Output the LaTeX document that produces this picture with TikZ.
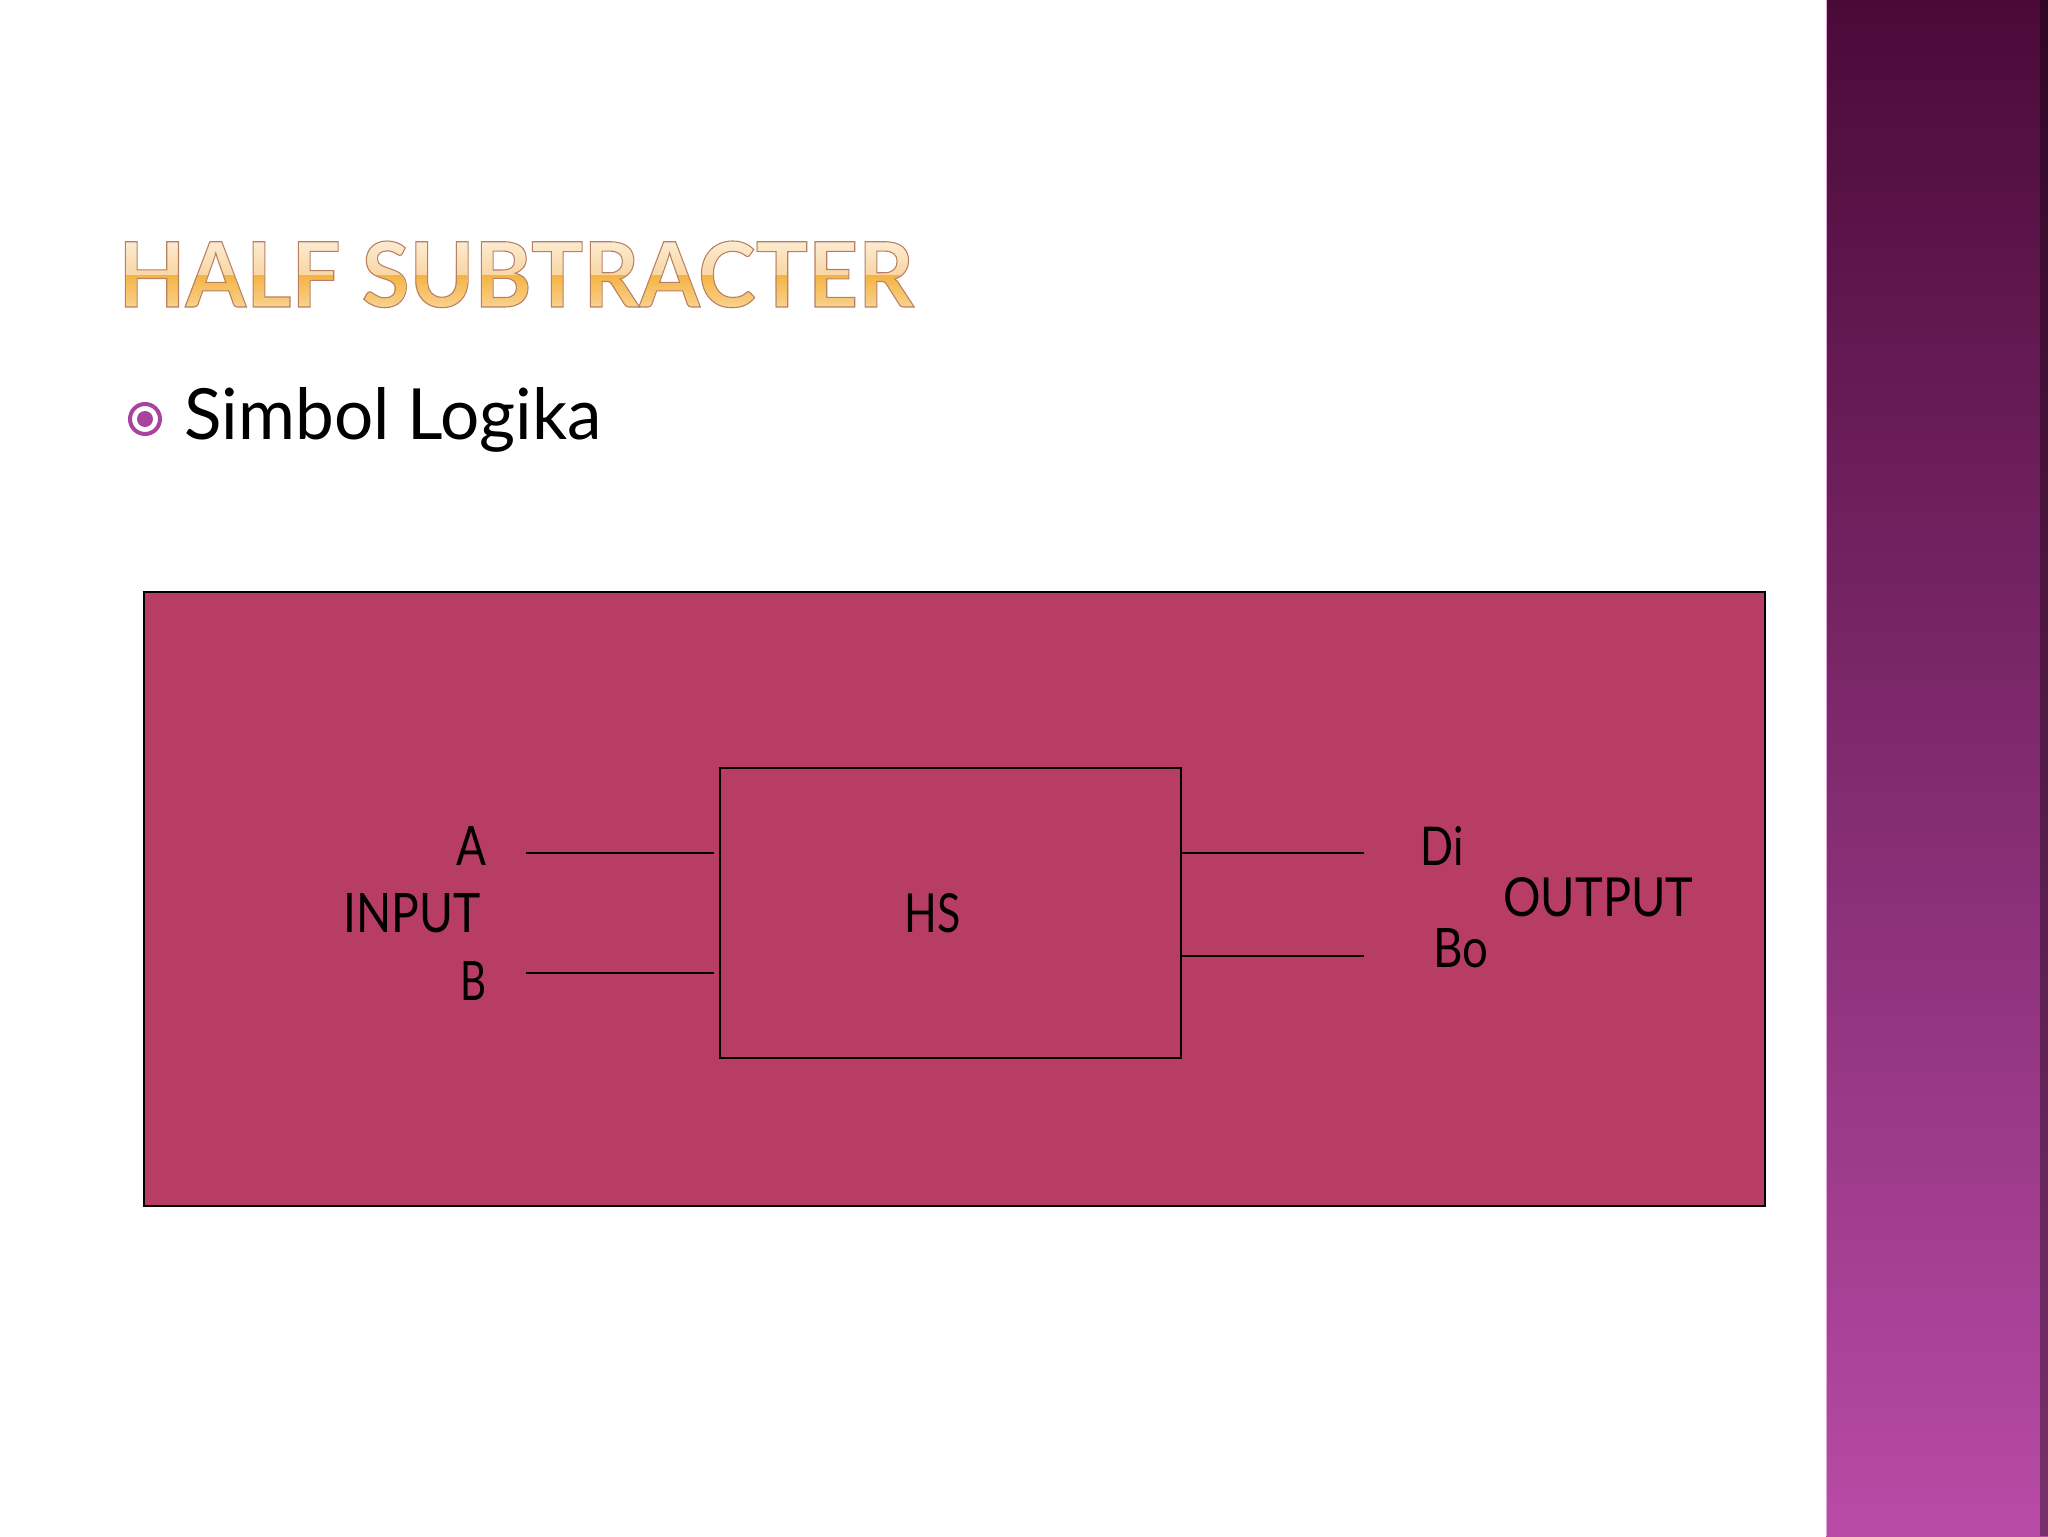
\documentclass[tikz,border=0pt]{standalone}
\usepackage{fontspec}
\usepackage{graphicx}
\setmainfont{Lato}
\definecolor{boxpink}{HTML}{B83D64}
\definecolor{bulletpurple}{HTML}{A8449E}
\definecolor{barTop}{HTML}{4A0A38}
\definecolor{barMid}{HTML}{83306F}
\definecolor{barBot}{HTML}{B84BA6}
\definecolor{barEdge}{HTML}{E6A6DA}
\definecolor{tA}{HTML}{FDEFD9}
\definecolor{tB}{HTML}{F9D7A6}
\definecolor{tC}{HTML}{F4B443}
\definecolor{tD}{HTML}{F9D699}
\newcommand{\titletext}{\resizebox{397.5pt}{33pt}{\bfseries HALF SUBTRACTER}}
\begin{document}
\begin{tikzpicture}[x=0.5pt,y=-0.5pt,
  lbl/.style={inner sep=0pt, anchor=base west, text=black},
  wire/.style={draw=black, line width=1pt}]
\useasboundingbox (0,0) rectangle (2048,1536);
\fill[white] (0,0) rectangle (2048,1536);
% right decorative bar
\shade[top color=barTop, middle color=barMid, bottom color=barBot] (1826,0) rectangle (2048,1536);
\fill[black, opacity=0.35] (2040,0) rectangle (2048,1536);
\draw[barEdge, line width=0.8pt] (1826.5,0) -- (1826.5,1536);
% title: banded gradient fill
\foreach \i in {0,...,16} {
  \pgfmathsetmacro{\ya}{236+\i*2.3}
  \pgfmathsetmacro{\yb}{\ya+2.5}
  \pgfmathtruncatemacro{\p}{100-100*\i/16}
  \begin{scope}
    \clip (100,\ya) rectangle (940,\yb);
    \node[lbl, text={tA!\p!tB}] (titleup\i) at (118,307) {\titletext};
  \end{scope}
}
\foreach \i in {0,...,16} {
  \pgfmathsetmacro{\ya}{275+\i*2.3}
  \pgfmathsetmacro{\yb}{\ya+2.5}
  \pgfmathtruncatemacro{\p}{100-100*\i/16}
  \begin{scope}
    \clip (100,\ya) rectangle (940,\yb);
    \node[lbl, text={tC!\p!tD}] (titlelo\i) at (118,307) {\titletext};
  \end{scope}
}
% title outline
\node[lbl] (title) at (118,307)
  {\special{pdf:literal direct 1 Tr 0.12 w 0.72 0.50 0.38 RG}\titletext\special{pdf:literal direct 0 Tr}};
% bullet
\node[circle, draw=bulletpurple, line width=2pt, minimum size=15pt, inner sep=0pt] (bullet) at (145,419) {};
\node[circle, fill=bulletpurple, minimum size=8pt, inner sep=0pt] (bulletdot) at (bullet.center) {};
\node[lbl] (sub) at (184,439) {\resizebox{208.5pt}{26pt}{Simbol Logika}};
% outer panel
\draw[fill=boxpink, draw=black, line width=1pt] (144,592) rectangle (1765,1206);
% HS block
\node[draw=black, line width=1pt, minimum width=230.5pt, minimum height=145pt, inner sep=0pt] (hs) at (950,913) {};
\node[lbl] (hslbl) at (904,932) {\resizebox{28pt}{19.5pt}{HS}};
% inputs
\coordinate (ain) at (526,853);
\coordinate (bin) at (526,973);
\draw[wire] (ain) -- ([xshift=-2.5pt]ain -| hs.west);
\draw[wire] (bin) -- ([xshift=-2.5pt]bin -| hs.west);
\node[lbl] (albl) at (456,865) {\resizebox{15pt}{19.5pt}{A}};
\node[lbl] (inlbl) at (343,932) {\resizebox{68.5pt}{19.5pt}{INPUT}};
\node[lbl] (blbl) at (460,1000) {\resizebox{13pt}{19.5pt}{B}};
% outputs
\coordinate (dout) at (1364,853);
\coordinate (bout) at (1364,956);
\draw[wire] (hs.east |- dout) -- (dout);
\draw[wire] (hs.east |- bout) -- (bout);
\node[lbl] (dilbl) at (1420,865) {\resizebox{21.5pt}{19.5pt}{Di}};
\node[lbl] (outlbl) at (1503,916) {\resizebox{95pt}{19.5pt}{OUTPUT}};
\node[lbl] (bolbl) at (1433,967) {\resizebox{27.5pt}{19.5pt}{Bo}};
\end{tikzpicture}
\end{document}
